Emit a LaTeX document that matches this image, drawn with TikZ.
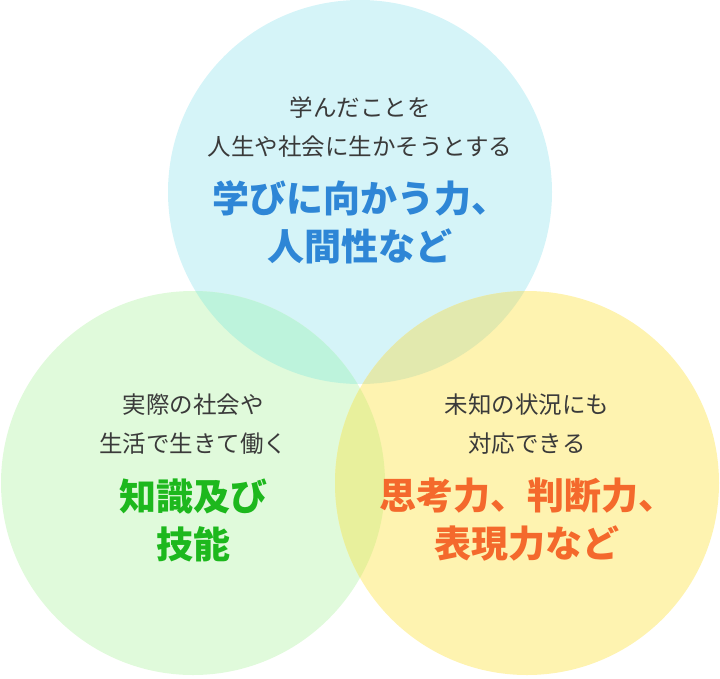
\documentclass[tikz,border=0pt]{standalone}
\usepackage{fontspec}
\setmainfont{Noto Sans CJK JP}
\usepackage{tikz}
\usetikzlibrary{positioning}
\definecolor{bgblue}{HTML}{D5F4F8}
\definecolor{bggreen}{HTML}{E0FADB}
\definecolor{bgyellow}{HTML}{FEF3B0}
\definecolor{bgbluegreen}{HTML}{BDF3DC}
\definecolor{bgblueyellow}{HTML}{E2E9AE}
\definecolor{bggreenyellow}{HTML}{E8F09C}
\definecolor{txtgray}{HTML}{3A3A3A}
\definecolor{txtblue}{HTML}{2E86D6}
\definecolor{txtgreen}{HTML}{1DB81D}
\definecolor{txtorange}{HTML}{F4692C}
\tikzset{
    note/.style={
        align=center,
        inner sep=0pt,
        text=txtgray,
        font=\fontsize{23.5}{39}\selectfont
    },
    goal/.style={
        align=center,
        inner sep=0pt,
        font=\bfseries\fontsize{37}{48}\selectfont
    }
}

\begin{document}
\begin{tikzpicture}[x=1pt, y=-1pt]
  \useasboundingbox (0,0) rectangle (720,678);

  % Circles
  \fill[bgblue] (360,192) circle (192);
  \fill[bggreen] (193,483) circle (192);
  \fill[bgyellow] (527,483) circle (192);

  % Overlaps
  \begin{scope}
    \clip (360,192) circle (192);
    \fill[bgbluegreen] (193,483) circle (192);
    \fill[bgblueyellow] (527,483) circle (192);
  \end{scope}
  \begin{scope}
    \clip (193,483) circle (192);
    \fill[bggreenyellow] (527,483) circle (192);
  \end{scope}

  % Top circle texts
  \node[note] (topnote) at (360,127) {学んだことを\\人生や社会に生かそうとする};
  \node[goal, text=txtblue] (topgoal) at (360,222) {学びに向かう力、\\人間性など};

  % Left circle texts
  \node[note] (leftnote) at (193,424) {実際の社会や\\生活で生きて働く};
  \node[goal, text=txtgreen] (leftgoal) at (193,520) {知識及び\\技能};

  % Right circle texts
  \node[note] (rightnote) at (527,424) {未知の状況にも\\対応できる};
  \node[goal, text=txtorange] (rightgoal) at (527,520) {思考力、判断力、\\表現力など};
\end{tikzpicture}
\end{document}
